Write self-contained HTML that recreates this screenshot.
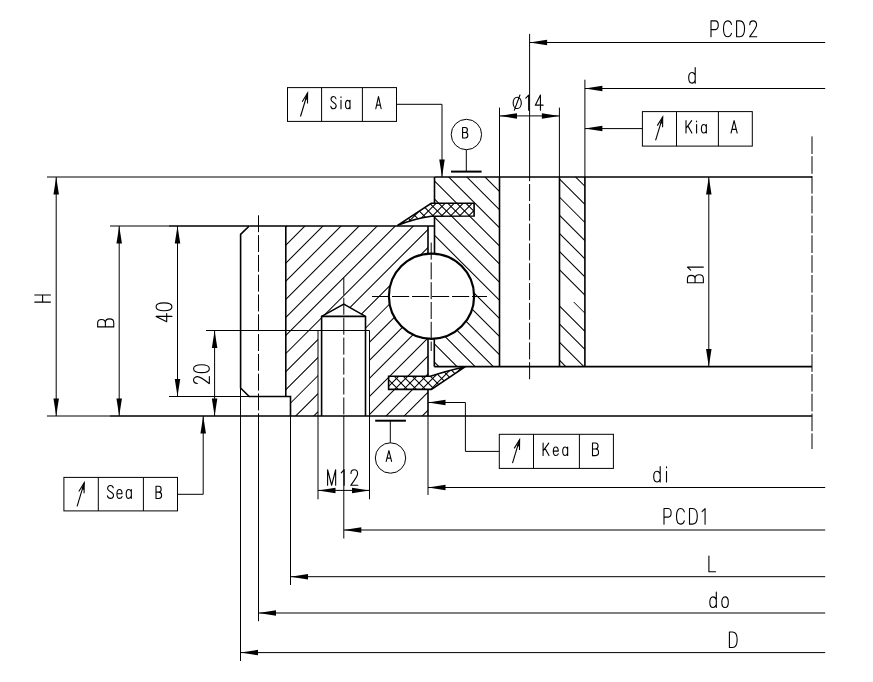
<!DOCTYPE html>
<html><head><meta charset="utf-8"><style>
html,body{margin:0;padding:0;background:#fff;font-family:"Liberation Sans",sans-serif;}
svg{display:block;}
</style></head><body>
<svg width="873" height="682" viewBox="0 0 873 682" stroke="#000" fill="none">
<rect x="0" y="0" width="873" height="682" fill="#fff" stroke="none"/>
<defs>
<clipPath id="cL"><path clip-rule="evenodd" d="M285.8,226 L428.0,226 L428.0,253.7 A42.6,42.6 0 0 0 428.0,338.7 L428.0,416.0 L290.5,416.0 L290.5,396.5 L285.8,396.5Z M318.0,416.0 L318.0,330.5 L321.6,330.5 L321.6,316.4 L343.8,304.1 L365.5,316.4 L365.5,330.5 L369.5,330.5 L369.5,416.0Z M388.3,376.2 L428.0,376.2 L428.0,388.9 L388.3,388.9Z"/></clipPath>
<clipPath id="cR"><path clip-rule="evenodd" d="M434.5,177 L499.5,177 L499.5,366.6 L434.3,366.6 L434.3,338.7 A42.6,42.6 0 0 0 434.5,253.7 L434.5,216 L474.1,216 L474.1,203.3 L434.5,203.3Z"/></clipPath>
<clipPath id="cS"><path d="M559.5,177 L584.9,177 L584.9,366.6 L559.5,366.6Z"/></clipPath>
<clipPath id="cU"><path d="M397.2,225.6 L431.2,203.3 L474.1,203.3 L474.1,216 L431.2,216.2 Q414,218.5 397.2,225.6Z"/></clipPath>
<clipPath id="cD"><path d="M388.6,376.3 L430.4,376.3 Q446,371 465.4,366.7 L431.4,389.4 L388.6,389.4Z"/></clipPath>
</defs>
<path clip-path="url(#cL)" d="M169.3,0 L-530.7,700 M187.38,0 L-512.62,700 M205.46000000000004,0 L-494.53999999999996,700 M223.54000000000002,0 L-476.46,700 M241.62,0 L-458.38,700 M259.7,0 L-440.3,700 M277.78,0 L-422.22,700 M295.86,0 L-404.14,700 M313.94,0 L-386.06,700 M332.02,0 L-367.98,700 M350.1,0 L-349.9,700 M368.18,0 L-331.82,700 M386.26,0 L-313.74,700 M404.34,0 L-295.66,700 M422.41999999999996,0 L-277.58000000000004,700 M440.5,0 L-259.5,700 M458.58,0 L-241.42000000000002,700 M476.65999999999997,0 L-223.34000000000003,700 M494.74,0 L-205.26,700 M512.8199999999999,0 L-187.18000000000006,700 M530.9,0 L-169.10000000000002,700 M548.98,0 L-151.01999999999998,700 M567.06,0 L-132.94000000000005,700 M585.14,0 L-114.86000000000001,700 M603.22,0 L-96.77999999999997,700 M621.3,0 L-78.70000000000005,700 M639.38,0 L-60.620000000000005,700 M657.4599999999999,0 L-42.54000000000008,700 M675.54,0 L-24.460000000000036,700 M693.6199999999999,0 L-6.380000000000109,700 M711.6999999999999,0 L11.699999999999932,700 M729.78,0 L29.779999999999973,700 M747.8599999999999,0 L47.8599999999999,700 M765.9399999999999,0 L65.93999999999994,700 M784.02,0 L84.01999999999998,700 M802.0999999999999,0 L102.09999999999991,700 M820.18,0 L120.17999999999995,700 M838.26,0 L138.26,700 M856.3399999999999,0 L156.33999999999992,700 M874.42,0 L174.41999999999996,700 M892.5,0 L192.5,700 M910.5799999999999,0 L210.57999999999993,700 M928.66,0 L228.65999999999997,700 M946.74,0 L246.74,700 M964.8199999999999,0 L264.81999999999994,700 M982.8999999999999,0 L282.89999999999986,700" stroke-width="1.05" fill="none"/>
<path clip-path="url(#cR)" d="M-72.75,0 L627.25,700 M-54.620000000000005,0 L645.38,700 M-36.49000000000001,0 L663.51,700 M-18.360000000000014,0 L681.64,700 M-0.22999999999998977,0 L699.77,700 M17.900000000000006,0 L717.9,700 M36.03,0 L736.03,700 M54.16,0 L754.16,700 M72.28999999999999,0 L772.29,700 M90.41999999999999,0 L790.42,700 M108.55,0 L808.55,700 M126.67999999999999,0 L826.68,700 M144.81,0 L844.81,700 M162.94,0 L862.94,700 M181.07,0 L881.0699999999999,700 M199.2,0 L899.2,700 M217.32999999999998,0 L917.3299999999999,700 M235.45999999999998,0 L935.46,700 M253.58999999999997,0 L953.5899999999999,700 M271.71999999999997,0 L971.72,700 M289.84999999999997,0 L989.8499999999999,700 M307.98,0 L1007.98,700 M326.11,0 L1026.1100000000001,700 M344.24,0 L1044.24,700 M362.37,0 L1062.37,700 M380.5,0 L1080.5,700 M398.63,0 L1098.63,700 M416.76,0 L1116.76,700 M434.89,0 L1134.8899999999999,700 M453.02,0 L1153.02,700 M471.15,0 L1171.15,700 M489.28,0 L1189.28,700 M507.40999999999997,0 L1207.4099999999999,700 M525.54,0 L1225.54,700 M543.67,0 L1243.67,700 M561.8,0 L1261.8,700 M579.93,0 L1279.9299999999998,700 M598.06,0 L1298.06,700 M616.1899999999999,0 L1316.19,700 M634.3199999999999,0 L1334.32,700 M652.45,0 L1352.45,700 M670.5799999999999,0 L1370.58,700 M688.71,0 L1388.71,700 M706.8399999999999,0 L1406.84,700 M724.97,0 L1424.97,700 M743.0999999999999,0 L1443.1,700" stroke-width="1.05" fill="none"/>
<path clip-path="url(#cS)" d="M108.55,0 L808.55,700 M126.67999999999999,0 L826.68,700 M144.81,0 L844.81,700 M162.94,0 L862.94,700 M181.07,0 L881.0699999999999,700 M199.2,0 L899.2,700 M217.32999999999998,0 L917.3299999999999,700 M235.45999999999998,0 L935.46,700 M253.58999999999997,0 L953.5899999999999,700 M289.84999999999997,0 L989.8499999999999,700 M307.98,0 L1007.98,700 M326.11,0 L1026.1100000000001,700 M344.24,0 L1044.24,700 M362.37,0 L1062.37,700 M380.5,0 L1080.5,700 M398.63,0 L1098.63,700 M416.76,0 L1116.76,700 M434.89,0 L1134.8899999999999,700 M453.02,0 L1153.02,700 M471.15,0 L1171.15,700 M489.28,0 L1189.28,700 M507.40999999999997,0 L1207.4099999999999,700 M525.54,0 L1225.54,700 M543.67,0 L1243.67,700 M561.8,0 L1261.8,700 M579.93,0 L1279.9299999999998,700 M598.06,0 L1298.06,700 M616.1899999999999,0 L1316.19,700 M634.3199999999999,0 L1334.32,700 M652.45,0 L1352.45,700 M670.5799999999999,0 L1370.58,700 M688.71,0 L1388.71,700 M706.8399999999999,0 L1406.84,700 M724.97,0 L1424.97,700" stroke-width="1.05" fill="none"/>
<line x1="573.8" y1="302.08" x2="584.9" y2="313.18" stroke-width="1.0"/>
<path clip-path="url(#cU)" d="M169.3,0 L-530.7,700 M178.34000000000003,0 L-521.66,700 M187.38,0 L-512.62,700 M196.42000000000002,0 L-503.58,700 M205.46000000000004,0 L-494.53999999999996,700 M214.5,0 L-485.5,700 M223.54000000000002,0 L-476.46,700 M232.57999999999998,0 L-467.42,700 M241.62,0 L-458.38,700 M250.66000000000003,0 L-449.34,700 M259.7,0 L-440.3,700 M268.74,0 L-431.26,700 M277.78,0 L-422.22,700 M286.82,0 L-413.18,700 M295.86,0 L-404.14,700 M304.9,0 L-395.1,700 M313.94,0 L-386.06,700 M322.98,0 L-377.02,700 M332.02,0 L-367.98,700 M341.06,0 L-358.94,700 M350.1,0 L-349.9,700 M359.14,0 L-340.86,700 M368.18,0 L-331.82,700 M377.22,0 L-322.78,700 M386.26,0 L-313.74,700 M395.29999999999995,0 L-304.70000000000005,700 M404.34,0 L-295.66,700 M413.38,0 L-286.62,700 M422.41999999999996,0 L-277.58000000000004,700 M431.46,0 L-268.54,700 M440.5,0 L-259.5,700 M449.53999999999996,0 L-250.46000000000004,700 M458.58,0 L-241.42000000000002,700 M467.62,0 L-232.38,700 M476.65999999999997,0 L-223.34000000000003,700 M485.7,0 L-214.3,700 M494.74,0 L-205.26,700 M503.78,0 L-196.22000000000003,700 M512.8199999999999,0 L-187.18000000000006,700 M521.86,0 L-178.14,700 M530.9,0 L-169.10000000000002,700 M539.9399999999999,0 L-160.06000000000006,700 M548.98,0 L-151.01999999999998,700 M558.02,0 L-141.98000000000002,700 M567.06,0 L-132.94000000000005,700 M576.1,0 L-123.89999999999998,700 M585.14,0 L-114.86000000000001,700 M594.18,0 L-105.82000000000005,700 M603.22,0 L-96.77999999999997,700 M612.26,0 L-87.74000000000001,700 M621.3,0 L-78.70000000000005,700 M630.3399999999999,0 L-69.66000000000008,700 M639.38,0 L-60.620000000000005,700 M648.42,0 L-51.58000000000004,700 M657.4599999999999,0 L-42.54000000000008,700 M666.5,0 L-33.5,700 M675.54,0 L-24.460000000000036,700 M684.5799999999999,0 L-15.420000000000073,700 M693.6199999999999,0 L-6.380000000000109,700 M702.66,0 L2.659999999999968,700 M711.6999999999999,0 L11.699999999999932,700 M720.74,0 L20.74000000000001,700 M729.78,0 L29.779999999999973,700 M738.8199999999999,0 L38.819999999999936,700 M747.8599999999999,0 L47.8599999999999,700 M756.9,0 L56.89999999999998,700 M765.9399999999999,0 L65.93999999999994,700 M774.98,0 L74.98000000000002,700 M784.02,0 L84.01999999999998,700 M793.06,0 L93.05999999999995,700 M802.0999999999999,0 L102.09999999999991,700 M811.1399999999999,0 L111.13999999999987,700 M820.18,0 L120.17999999999995,700 M829.22,0 L129.22000000000003,700 M838.26,0 L138.26,700 M847.3,0 L147.29999999999995,700 M856.3399999999999,0 L156.33999999999992,700 M865.3799999999999,0 L165.37999999999988,700 M874.42,0 L174.41999999999996,700 M883.4599999999999,0 L183.45999999999992,700 M892.5,0 L192.5,700 M901.54,0 L201.53999999999996,700 M910.5799999999999,0 L210.57999999999993,700 M919.6199999999999,0 L219.6199999999999,700 M928.66,0 L228.65999999999997,700 M937.6999999999999,0 L237.69999999999993,700 M946.74,0 L246.74,700 M955.78,0 L255.77999999999997,700 M964.8199999999999,0 L264.81999999999994,700 M973.8599999999999,0 L273.8599999999999,700 M982.8999999999999,0 L282.89999999999986,700 M991.9399999999999,0 L291.93999999999994,700 M1000.9799999999999,0 L300.9799999999999,700 M1010.02,0 L310.02,700 M1019.06,0 L319.05999999999995,700 M1028.1,0 L328.0999999999999,700 M1037.1399999999999,0 L337.1399999999999,700 M1046.1799999999998,0 L346.17999999999984,700 M1055.2199999999998,0 L355.2199999999998,700 M1064.2599999999998,0 L364.25999999999976,700 M1073.3,0 L373.29999999999995,700" stroke-width="1.05" fill="none"/>
<path clip-path="url(#cU)" d="M-163.39999999999998,0 L536.6,700 M-154.33499999999998,0 L545.665,700 M-145.26999999999998,0 L554.73,700 M-136.20499999999998,0 L563.7950000000001,700 M-127.13999999999999,0 L572.86,700 M-118.07499999999999,0 L581.925,700 M-109.00999999999999,0 L590.99,700 M-99.945,0 L600.0550000000001,700 M-90.88,0 L609.12,700 M-81.815,0 L618.185,700 M-72.75,0 L627.25,700 M-63.685,0 L636.315,700 M-54.620000000000005,0 L645.38,700 M-45.55500000000001,0 L654.4449999999999,700 M-36.49000000000001,0 L663.51,700 M-27.42500000000001,0 L672.575,700 M-18.360000000000014,0 L681.64,700 M-9.294999999999987,0 L690.705,700 M-0.22999999999998977,0 L699.77,700 M8.835000000000008,0 L708.835,700 M17.900000000000006,0 L717.9,700 M26.965000000000003,0 L726.965,700 M36.03,0 L736.03,700 M45.095,0 L745.095,700 M54.16,0 L754.16,700 M63.224999999999994,0 L763.225,700 M72.28999999999999,0 L772.29,700 M81.35499999999999,0 L781.355,700 M90.41999999999999,0 L790.42,700 M99.485,0 L799.485,700 M108.55,0 L808.55,700 M117.615,0 L817.615,700 M126.67999999999999,0 L826.68,700 M135.745,0 L835.745,700 M144.81,0 L844.81,700 M153.875,0 L853.875,700 M162.94,0 L862.94,700 M172.005,0 L872.005,700 M181.07,0 L881.0699999999999,700 M190.135,0 L890.135,700 M199.2,0 L899.2,700 M208.265,0 L908.265,700 M217.32999999999998,0 L917.3299999999999,700 M226.39499999999998,0 L926.395,700 M235.45999999999998,0 L935.46,700 M244.52499999999998,0 L944.525,700 M253.58999999999997,0 L953.5899999999999,700 M262.655,0 L962.655,700 M271.71999999999997,0 L971.72,700 M280.78499999999997,0 L980.785,700 M289.84999999999997,0 L989.8499999999999,700 M298.91499999999996,0 L998.915,700 M307.98,0 L1007.98,700 M317.04499999999996,0 L1017.045,700 M326.11,0 L1026.1100000000001,700 M335.17499999999995,0 L1035.175,700 M344.24,0 L1044.24,700 M353.30499999999995,0 L1053.3049999999998,700 M362.37,0 L1062.37,700 M371.43499999999995,0 L1071.435,700 M380.5,0 L1080.5,700 M389.56499999999994,0 L1089.565,700 M398.63,0 L1098.63,700 M407.69499999999994,0 L1107.695,700 M416.76,0 L1116.76,700 M425.825,0 L1125.825,700 M434.89,0 L1134.8899999999999,700 M443.955,0 L1143.955,700 M453.02,0 L1153.02,700 M462.085,0 L1162.085,700 M471.15,0 L1171.15,700 M480.215,0 L1180.215,700 M489.28,0 L1189.28,700 M498.34499999999997,0 L1198.345,700 M507.40999999999997,0 L1207.4099999999999,700 M516.4749999999999,0 L1216.475,700 M525.54,0 L1225.54,700 M534.605,0 L1234.605,700 M543.67,0 L1243.67,700 M552.7349999999999,0 L1252.735,700 M561.8,0 L1261.8,700 M570.865,0 L1270.865,700 M579.93,0 L1279.9299999999998,700 M588.9949999999999,0 L1288.995,700 M598.06,0 L1298.06,700 M607.125,0 L1307.125,700 M616.1899999999999,0 L1316.19,700 M625.2549999999999,0 L1325.2549999999999,700 M634.3199999999999,0 L1334.32,700 M643.385,0 L1343.385,700 M652.45,0 L1352.45,700 M661.515,0 L1361.5149999999999,700 M670.5799999999999,0 L1370.58,700 M679.645,0 L1379.645,700 M688.71,0 L1388.71,700 M697.775,0 L1397.775,700 M706.8399999999999,0 L1406.84,700 M715.905,0 L1415.905,700 M724.97,0 L1424.97,700 M734.0349999999999,0 L1434.0349999999999,700 M743.0999999999999,0 L1443.1,700 M752.165,0 L1452.165,700 M761.23,0 L1461.23,700 M770.2949999999998,0 L1470.2949999999998,700 M779.3599999999999,0 L1479.36,700 M788.425,0 L1488.425,700 M797.49,0 L1497.49,700 M806.5550000000001,0 L1506.555,700 M815.6199999999999,0 L1515.62,700 M824.685,0 L1524.685,700 M833.75,0 L1533.75,700 M842.815,0 L1542.815,700 M851.8799999999999,0 L1551.8799999999999,700 M860.9449999999999,0 L1560.945,700 M870.01,0 L1570.01,700 M879.075,0 L1579.075,700 M888.1399999999999,0 L1588.1399999999999,700 M897.2049999999999,0 L1597.205,700 M906.27,0 L1606.27,700 M915.335,0 L1615.335,700 M924.3999999999999,0 L1624.3999999999999,700" stroke-width="1.05" fill="none"/>
<path clip-path="url(#cD)" d="M169.3,0 L-530.7,700 M178.34000000000003,0 L-521.66,700 M187.38,0 L-512.62,700 M196.42000000000002,0 L-503.58,700 M205.46000000000004,0 L-494.53999999999996,700 M214.5,0 L-485.5,700 M223.54000000000002,0 L-476.46,700 M232.57999999999998,0 L-467.42,700 M241.62,0 L-458.38,700 M250.66000000000003,0 L-449.34,700 M259.7,0 L-440.3,700 M268.74,0 L-431.26,700 M277.78,0 L-422.22,700 M286.82,0 L-413.18,700 M295.86,0 L-404.14,700 M304.9,0 L-395.1,700 M313.94,0 L-386.06,700 M322.98,0 L-377.02,700 M332.02,0 L-367.98,700 M341.06,0 L-358.94,700 M350.1,0 L-349.9,700 M359.14,0 L-340.86,700 M368.18,0 L-331.82,700 M377.22,0 L-322.78,700 M386.26,0 L-313.74,700 M395.29999999999995,0 L-304.70000000000005,700 M404.34,0 L-295.66,700 M413.38,0 L-286.62,700 M422.41999999999996,0 L-277.58000000000004,700 M431.46,0 L-268.54,700 M440.5,0 L-259.5,700 M449.53999999999996,0 L-250.46000000000004,700 M458.58,0 L-241.42000000000002,700 M467.62,0 L-232.38,700 M476.65999999999997,0 L-223.34000000000003,700 M485.7,0 L-214.3,700 M494.74,0 L-205.26,700 M503.78,0 L-196.22000000000003,700 M512.8199999999999,0 L-187.18000000000006,700 M521.86,0 L-178.14,700 M530.9,0 L-169.10000000000002,700 M539.9399999999999,0 L-160.06000000000006,700 M548.98,0 L-151.01999999999998,700 M558.02,0 L-141.98000000000002,700 M567.06,0 L-132.94000000000005,700 M576.1,0 L-123.89999999999998,700 M585.14,0 L-114.86000000000001,700 M594.18,0 L-105.82000000000005,700 M603.22,0 L-96.77999999999997,700 M612.26,0 L-87.74000000000001,700 M621.3,0 L-78.70000000000005,700 M630.3399999999999,0 L-69.66000000000008,700 M639.38,0 L-60.620000000000005,700 M648.42,0 L-51.58000000000004,700 M657.4599999999999,0 L-42.54000000000008,700 M666.5,0 L-33.5,700 M675.54,0 L-24.460000000000036,700 M684.5799999999999,0 L-15.420000000000073,700 M693.6199999999999,0 L-6.380000000000109,700 M702.66,0 L2.659999999999968,700 M711.6999999999999,0 L11.699999999999932,700 M720.74,0 L20.74000000000001,700 M729.78,0 L29.779999999999973,700 M738.8199999999999,0 L38.819999999999936,700 M747.8599999999999,0 L47.8599999999999,700 M756.9,0 L56.89999999999998,700 M765.9399999999999,0 L65.93999999999994,700 M774.98,0 L74.98000000000002,700 M784.02,0 L84.01999999999998,700 M793.06,0 L93.05999999999995,700 M802.0999999999999,0 L102.09999999999991,700 M811.1399999999999,0 L111.13999999999987,700 M820.18,0 L120.17999999999995,700 M829.22,0 L129.22000000000003,700 M838.26,0 L138.26,700 M847.3,0 L147.29999999999995,700 M856.3399999999999,0 L156.33999999999992,700 M865.3799999999999,0 L165.37999999999988,700 M874.42,0 L174.41999999999996,700 M883.4599999999999,0 L183.45999999999992,700 M892.5,0 L192.5,700 M901.54,0 L201.53999999999996,700 M910.5799999999999,0 L210.57999999999993,700 M919.6199999999999,0 L219.6199999999999,700 M928.66,0 L228.65999999999997,700 M937.6999999999999,0 L237.69999999999993,700 M946.74,0 L246.74,700 M955.78,0 L255.77999999999997,700 M964.8199999999999,0 L264.81999999999994,700 M973.8599999999999,0 L273.8599999999999,700 M982.8999999999999,0 L282.89999999999986,700 M991.9399999999999,0 L291.93999999999994,700 M1000.9799999999999,0 L300.9799999999999,700 M1010.02,0 L310.02,700 M1019.06,0 L319.05999999999995,700 M1028.1,0 L328.0999999999999,700 M1037.1399999999999,0 L337.1399999999999,700 M1046.1799999999998,0 L346.17999999999984,700 M1055.2199999999998,0 L355.2199999999998,700 M1064.2599999999998,0 L364.25999999999976,700 M1073.3,0 L373.29999999999995,700" stroke-width="1.05" fill="none"/>
<path clip-path="url(#cD)" d="M-163.39999999999998,0 L536.6,700 M-154.33499999999998,0 L545.665,700 M-145.26999999999998,0 L554.73,700 M-136.20499999999998,0 L563.7950000000001,700 M-127.13999999999999,0 L572.86,700 M-118.07499999999999,0 L581.925,700 M-109.00999999999999,0 L590.99,700 M-99.945,0 L600.0550000000001,700 M-90.88,0 L609.12,700 M-81.815,0 L618.185,700 M-72.75,0 L627.25,700 M-63.685,0 L636.315,700 M-54.620000000000005,0 L645.38,700 M-45.55500000000001,0 L654.4449999999999,700 M-36.49000000000001,0 L663.51,700 M-27.42500000000001,0 L672.575,700 M-18.360000000000014,0 L681.64,700 M-9.294999999999987,0 L690.705,700 M-0.22999999999998977,0 L699.77,700 M8.835000000000008,0 L708.835,700 M17.900000000000006,0 L717.9,700 M26.965000000000003,0 L726.965,700 M36.03,0 L736.03,700 M45.095,0 L745.095,700 M54.16,0 L754.16,700 M63.224999999999994,0 L763.225,700 M72.28999999999999,0 L772.29,700 M81.35499999999999,0 L781.355,700 M90.41999999999999,0 L790.42,700 M99.485,0 L799.485,700 M108.55,0 L808.55,700 M117.615,0 L817.615,700 M126.67999999999999,0 L826.68,700 M135.745,0 L835.745,700 M144.81,0 L844.81,700 M153.875,0 L853.875,700 M162.94,0 L862.94,700 M172.005,0 L872.005,700 M181.07,0 L881.0699999999999,700 M190.135,0 L890.135,700 M199.2,0 L899.2,700 M208.265,0 L908.265,700 M217.32999999999998,0 L917.3299999999999,700 M226.39499999999998,0 L926.395,700 M235.45999999999998,0 L935.46,700 M244.52499999999998,0 L944.525,700 M253.58999999999997,0 L953.5899999999999,700 M262.655,0 L962.655,700 M271.71999999999997,0 L971.72,700 M280.78499999999997,0 L980.785,700 M289.84999999999997,0 L989.8499999999999,700 M298.91499999999996,0 L998.915,700 M307.98,0 L1007.98,700 M317.04499999999996,0 L1017.045,700 M326.11,0 L1026.1100000000001,700 M335.17499999999995,0 L1035.175,700 M344.24,0 L1044.24,700 M353.30499999999995,0 L1053.3049999999998,700 M362.37,0 L1062.37,700 M371.43499999999995,0 L1071.435,700 M380.5,0 L1080.5,700 M389.56499999999994,0 L1089.565,700 M398.63,0 L1098.63,700 M407.69499999999994,0 L1107.695,700 M416.76,0 L1116.76,700 M425.825,0 L1125.825,700 M434.89,0 L1134.8899999999999,700 M443.955,0 L1143.955,700 M453.02,0 L1153.02,700 M462.085,0 L1162.085,700 M471.15,0 L1171.15,700 M480.215,0 L1180.215,700 M489.28,0 L1189.28,700 M498.34499999999997,0 L1198.345,700 M507.40999999999997,0 L1207.4099999999999,700 M516.4749999999999,0 L1216.475,700 M525.54,0 L1225.54,700 M534.605,0 L1234.605,700 M543.67,0 L1243.67,700 M552.7349999999999,0 L1252.735,700 M561.8,0 L1261.8,700 M570.865,0 L1270.865,700 M579.93,0 L1279.9299999999998,700 M588.9949999999999,0 L1288.995,700 M598.06,0 L1298.06,700 M607.125,0 L1307.125,700 M616.1899999999999,0 L1316.19,700 M625.2549999999999,0 L1325.2549999999999,700 M634.3199999999999,0 L1334.32,700 M643.385,0 L1343.385,700 M652.45,0 L1352.45,700 M661.515,0 L1361.5149999999999,700 M670.5799999999999,0 L1370.58,700 M679.645,0 L1379.645,700 M688.71,0 L1388.71,700 M697.775,0 L1397.775,700 M706.8399999999999,0 L1406.84,700 M715.905,0 L1415.905,700 M724.97,0 L1424.97,700 M734.0349999999999,0 L1434.0349999999999,700 M743.0999999999999,0 L1443.1,700 M752.165,0 L1452.165,700 M761.23,0 L1461.23,700 M770.2949999999998,0 L1470.2949999999998,700 M779.3599999999999,0 L1479.36,700 M788.425,0 L1488.425,700 M797.49,0 L1497.49,700 M806.5550000000001,0 L1506.555,700 M815.6199999999999,0 L1515.62,700 M824.685,0 L1524.685,700 M833.75,0 L1533.75,700 M842.815,0 L1542.815,700 M851.8799999999999,0 L1551.8799999999999,700 M860.9449999999999,0 L1560.945,700 M870.01,0 L1570.01,700 M879.075,0 L1579.075,700 M888.1399999999999,0 L1588.1399999999999,700 M897.2049999999999,0 L1597.205,700 M906.27,0 L1606.27,700 M915.335,0 L1615.335,700 M924.3999999999999,0 L1624.3999999999999,700" stroke-width="1.05" fill="none"/>
<path d="M249.2,226 L240.6,234.3 L240.6,388 L249.2,396.5 L290.5,396.5 L290.5,416.0" stroke-width="1.6" fill="none"/>
<line x1="249.2" y1="226" x2="434.5" y2="226" stroke-width="1.6"/>
<line x1="285.8" y1="226" x2="285.8" y2="396.5" stroke-width="1.6"/>
<line x1="241" y1="416.0" x2="812" y2="416.0" stroke-width="1.6"/>
<line x1="428.0" y1="226" x2="428.0" y2="253.7" stroke-width="1.6"/>
<line x1="428.0" y1="338.7" x2="428.0" y2="376.3" stroke-width="1.6"/>
<line x1="428.0" y1="389.4" x2="428.0" y2="416.0" stroke-width="1.6"/>
<line x1="434.5" y1="177" x2="812" y2="177" stroke-width="1.6"/>
<line x1="434.5" y1="177" x2="434.5" y2="203.3" stroke-width="1.6"/>
<line x1="434.5" y1="216" x2="434.5" y2="253.7" stroke-width="1.6"/>
<line x1="434.3" y1="338.7" x2="434.3" y2="366.6" stroke-width="1.6"/>
<line x1="434.3" y1="366.6" x2="812" y2="366.6" stroke-width="1.6"/>
<line x1="499.5" y1="177" x2="499.5" y2="366.6" stroke-width="1.6"/>
<line x1="559.5" y1="177" x2="559.5" y2="366.6" stroke-width="1.6"/>
<line x1="584.9" y1="177" x2="584.9" y2="366.6" stroke-width="1.6"/>
<circle cx="431.5" cy="296.2" r="42.6" fill="none" stroke-width="2.2"/>
<path d="M321.6,416.0 L321.6,316.4 L343.8,304.1 L365.5,316.4 L365.5,416.0" stroke-width="1.6" fill="none"/>
<line x1="321.6" y1="316.4" x2="365.5" y2="316.4" stroke-width="1.6"/>
<path d="M397.2,225.6 L431.2,203.3 L474.1,203.3 L474.1,216 L431.2,216.2 Q414,218.5 397.2,225.6Z" fill="none" stroke-width="1.6"/>
<path d="M388.6,376.3 L430.4,376.3 Q446,371 465.4,366.7 L431.4,389.4 L388.6,389.4Z" fill="none" stroke-width="1.6"/>
<line x1="47" y1="177" x2="434.5" y2="177" stroke-width="1.0"/>
<line x1="110" y1="226" x2="249" y2="226" stroke-width="1.0"/>
<line x1="169" y1="226" x2="249" y2="226" stroke-width="1.0"/>
<line x1="169" y1="396.5" x2="249" y2="396.5" stroke-width="1.0"/>
<line x1="47" y1="416.0" x2="241" y2="416.0" stroke-width="1.0"/>
<line x1="110" y1="416.0" x2="241" y2="416.0" stroke-width="1.0"/>
<line x1="206" y1="330.5" x2="369.5" y2="330.5" stroke-width="1.0"/>
<line x1="318.0" y1="330.5" x2="318.0" y2="499.3" stroke-width="1.0"/>
<line x1="369.5" y1="330.5" x2="369.5" y2="499.3" stroke-width="1.0"/>
<line x1="56.2" y1="177" x2="56.2" y2="416.0" stroke-width="1.0"/>
<path d="M56.20,177.00 L58.95,194.50 L53.45,194.50Z" fill="#000" stroke="none"/>
<path d="M56.20,416.00 L53.45,398.50 L58.95,398.50Z" fill="#000" stroke="none"/>
<line x1="119.2" y1="226" x2="119.2" y2="416.0" stroke-width="1.0"/>
<path d="M119.20,226.00 L121.95,243.50 L116.45,243.50Z" fill="#000" stroke="none"/>
<path d="M119.20,416.00 L116.45,398.50 L121.95,398.50Z" fill="#000" stroke="none"/>
<line x1="177.5" y1="226" x2="177.5" y2="396.5" stroke-width="1.0"/>
<path d="M177.50,226.00 L180.25,243.50 L174.75,243.50Z" fill="#000" stroke="none"/>
<path d="M177.50,396.50 L174.75,379.00 L180.25,379.00Z" fill="#000" stroke="none"/>
<line x1="214.6" y1="330.5" x2="214.6" y2="416.0" stroke-width="1.0"/>
<path d="M214.60,330.50 L217.35,348.00 L211.85,348.00Z" fill="#000" stroke="none"/>
<path d="M214.60,416.00 L211.85,398.50 L217.35,398.50Z" fill="#000" stroke="none"/>
<line x1="812" y1="136.4" x2="812" y2="449" stroke-width="1.0" stroke-dasharray="17.6 2.2"/>
<line x1="372" y1="296.5" x2="487" y2="296.5" stroke-width="1.0" stroke-dasharray="17.2 2.8" stroke-dashoffset="0"/>
<line x1="431.2" y1="242.6" x2="431.2" y2="351" stroke-width="1.0" stroke-dasharray="17 2.8"/>
<line x1="258.5" y1="215.3" x2="258.5" y2="416.0" stroke-width="1.0" stroke-dasharray="16.9 2.9"/>
<line x1="258.5" y1="416.0" x2="258.5" y2="621.2" stroke-width="1.0"/>
<line x1="343.8" y1="277.8" x2="343.8" y2="416.0" stroke-width="1.0" stroke-dasharray="17 2.95"/>
<line x1="343.8" y1="416.0" x2="343.8" y2="538.5" stroke-width="1.0"/>
<line x1="529.6" y1="33.9" x2="529.6" y2="177" stroke-width="1.0"/>
<line x1="529.6" y1="177" x2="529.6" y2="379.5" stroke-width="1.0" stroke-dasharray="17 2.8" stroke-dashoffset="12.8"/>
<line x1="240.5" y1="388" x2="240.5" y2="661" stroke-width="1.0"/>
<line x1="290.5" y1="416.0" x2="290.5" y2="585" stroke-width="1.0"/>
<line x1="428.0" y1="416.0" x2="428.0" y2="495" stroke-width="1.0"/>
<line x1="584.9" y1="79.7" x2="584.9" y2="177" stroke-width="1.0"/>
<line x1="499.5" y1="107.6" x2="499.5" y2="177" stroke-width="1.0"/>
<line x1="559.4" y1="107.6" x2="559.4" y2="177" stroke-width="1.0"/>
<line x1="529.6" y1="42.5" x2="825.2" y2="42.5" stroke-width="1.0"/>
<path d="M529.60,42.50 L547.10,39.75 L547.10,45.25Z" fill="#000" stroke="none"/>
<line x1="584.9" y1="88.5" x2="825.2" y2="88.5" stroke-width="1.0"/>
<path d="M584.90,88.50 L602.40,85.75 L602.40,91.25Z" fill="#000" stroke="none"/>
<line x1="428.0" y1="487.5" x2="825.2" y2="487.5" stroke-width="1.0"/>
<path d="M428.00,487.50 L445.50,484.75 L445.50,490.25Z" fill="#000" stroke="none"/>
<line x1="343.8" y1="530.0" x2="825.2" y2="530.0" stroke-width="1.0"/>
<path d="M343.80,530.00 L361.30,527.25 L361.30,532.75Z" fill="#000" stroke="none"/>
<line x1="290.5" y1="576.7" x2="825.2" y2="576.7" stroke-width="1.0"/>
<path d="M290.50,576.70 L308.00,573.95 L308.00,579.45Z" fill="#000" stroke="none"/>
<line x1="258.5" y1="613.0" x2="825.2" y2="613.0" stroke-width="1.0"/>
<path d="M258.50,613.00 L276.00,610.25 L276.00,615.75Z" fill="#000" stroke="none"/>
<line x1="240.5" y1="652.6" x2="825.2" y2="652.6" stroke-width="1.0"/>
<path d="M240.50,652.60 L258.00,649.85 L258.00,655.35Z" fill="#000" stroke="none"/>
<line x1="499.5" y1="115.9" x2="559.4" y2="115.9" stroke-width="1.0"/>
<path d="M499.50,115.90 L517.00,113.15 L517.00,118.65Z" fill="#000" stroke="none"/>
<path d="M559.40,115.90 L541.90,118.65 L541.90,113.15Z" fill="#000" stroke="none"/>
<line x1="318.0" y1="490.4" x2="369.5" y2="490.4" stroke-width="1.0"/>
<path d="M318.00,490.40 L335.50,487.65 L335.50,493.15Z" fill="#000" stroke="none"/>
<path d="M369.50,490.40 L352.00,493.15 L352.00,487.65Z" fill="#000" stroke="none"/>
<line x1="708.8" y1="177" x2="708.8" y2="366.6" stroke-width="1.0"/>
<path d="M708.80,177.00 L711.55,194.50 L706.05,194.50Z" fill="#000" stroke="none"/>
<path d="M708.80,366.60 L706.05,349.10 L711.55,349.10Z" fill="#000" stroke="none"/>
<line x1="584.9" y1="128.6" x2="642.4" y2="128.6" stroke-width="1.0"/>
<path d="M584.90,128.60 L602.40,125.85 L602.40,131.35Z" fill="#000" stroke="none"/>
<path d="M396.5,104.3 L442,104.3 L442,177" stroke-width="1.0" fill="none"/>
<path d="M442.00,177.00 L439.25,159.50 L444.75,159.50Z" fill="#000" stroke="none"/>
<path d="M499.3,451.4 L465.4,451.4 L465.4,402.5 L428.0,402.5" stroke-width="1.0" fill="none"/>
<path d="M428.00,402.50 L445.50,399.75 L445.50,405.25Z" fill="#000" stroke="none"/>
<path d="M177.5,494.3 L203.2,494.3 L203.2,416.0" stroke-width="1.0" fill="none"/>
<path d="M203.20,416.00 L205.95,433.50 L200.45,433.50Z" fill="#000" stroke="none"/>
<rect x="287.5" y="87.6" width="109.0" height="33.80000000000001" fill="none" stroke-width="1"/>
<line x1="321.6" y1="87.6" x2="321.6" y2="121.4" stroke-width="1.0"/>
<line x1="362.4" y1="87.6" x2="362.4" y2="121.4" stroke-width="1.0"/>
<line x1="300.5" y1="116.5" x2="307.6" y2="93.0" stroke-width="1.1"/>
<path d="M302.2,101.69999999999999 L307.6,93.0 L307.5,103.39999999999999" fill="none" stroke-width="1.1"/>
<path d="M307.6,93.0 L305.1,99.1 L307.40000000000003,100.1Z" fill="#000" stroke="none"/>
<rect x="642.4" y="111.6" width="109.89999999999998" height="34.5" fill="none" stroke-width="1"/>
<line x1="676.5" y1="111.6" x2="676.5" y2="146.1" stroke-width="1.0"/>
<line x1="718.4" y1="111.6" x2="718.4" y2="146.1" stroke-width="1.0"/>
<line x1="655.6" y1="140.4" x2="662.6999999999999" y2="116.9" stroke-width="1.1"/>
<path d="M657.3,125.6 L662.6999999999999,116.9 L662.6,127.3" fill="none" stroke-width="1.1"/>
<path d="M662.6999999999999,116.9 L660.1999999999999,123.0 L662.5,124.0Z" fill="#000" stroke="none"/>
<rect x="499.3" y="434.3" width="114.09999999999997" height="34.099999999999966" fill="none" stroke-width="1"/>
<line x1="533.5" y1="434.3" x2="533.5" y2="468.4" stroke-width="1.0"/>
<line x1="579.4" y1="434.3" x2="579.4" y2="468.4" stroke-width="1.0"/>
<line x1="512.5" y1="463.2" x2="519.6" y2="439.7" stroke-width="1.1"/>
<path d="M514.2,448.40000000000003 L519.6,439.7 L519.5,450.1" fill="none" stroke-width="1.1"/>
<path d="M519.6,439.7 L517.1,445.8 L519.4,446.8Z" fill="#000" stroke="none"/>
<rect x="63.9" y="477.4" width="113.6" height="33.5" fill="none" stroke-width="1"/>
<line x1="98.3" y1="477.4" x2="98.3" y2="510.9" stroke-width="1.0"/>
<line x1="143.4" y1="477.4" x2="143.4" y2="510.9" stroke-width="1.0"/>
<line x1="77.1" y1="506.29999999999995" x2="84.2" y2="482.79999999999995" stroke-width="1.1"/>
<path d="M78.8,491.5 L84.2,482.79999999999995 L84.1,493.2" fill="none" stroke-width="1.1"/>
<path d="M84.2,482.79999999999995 L81.7,488.9 L84.0,489.9Z" fill="#000" stroke="none"/>
<circle cx="466.4" cy="134.5" r="15.2" fill="none" stroke-width="1"/>
<line x1="466.3" y1="149.7" x2="466.3" y2="171.6" stroke-width="1.0"/>
<line x1="451" y1="171.6" x2="481.6" y2="171.6" stroke-width="2.0"/>
<circle cx="390.5" cy="458" r="15.2" fill="none" stroke-width="1"/>
<line x1="390.3" y1="420.7" x2="390.3" y2="442.8" stroke-width="1.0"/>
<line x1="375.2" y1="420.7" x2="405.9" y2="420.7" stroke-width="2.0"/>
<g transform="translate(711.0,20.85)" fill="none" stroke-width="1.1" stroke-linecap="round" stroke-linejoin="round"><path transform="translate(0.00,0) scale(15.900,15.900)" d="M0,1V0H0.27C0.52,0 0.52,0.55 0.27,0.55H0" vector-effect="non-scaling-stroke"/><path transform="translate(12.50,0) scale(15.900,15.900)" d="M0.5,0.22C0.47,0.07 0.38,0 0.25,0C0.08,0 0,0.2 0,0.5C0,0.8 0.08,1 0.25,1C0.38,1 0.47,0.93 0.5,0.78" vector-effect="non-scaling-stroke"/><path transform="translate(25.60,0) scale(15.900,15.900)" d="M0,0V1H0.2C0.42,1 0.5,0.78 0.5,0.5C0.5,0.22 0.42,0 0.2,0Z" vector-effect="non-scaling-stroke"/><path transform="translate(38.60,0) scale(15.900,15.900)" d="M0.01,0.24C0.01,0.08 0.1,0 0.22,0C0.36,0 0.44,0.1 0.44,0.26C0.44,0.42 0.36,0.52 0,1H0.45" vector-effect="non-scaling-stroke"/></g>
<g transform="translate(688.7,67.64999999999999)" fill="none" stroke-width="1.1" stroke-linecap="round" stroke-linejoin="round"><path transform="translate(0.00,0) scale(15.500,15.500)" d="M0.42,0V1M0.42,0.5C0.38,0.38 0.31,0.31 0.21,0.31C0.06,0.31 0,0.47 0,0.655C0,0.84 0.06,1 0.21,1C0.31,1 0.38,0.93 0.42,0.8" vector-effect="non-scaling-stroke"/></g>
<g transform="translate(513,95.05)" fill="none" stroke-width="1.1" stroke-linecap="round" stroke-linejoin="round"><path transform="translate(0.00,0) scale(15.100,15.100)" d="M0.28,0.15C0.1,0.15 0.01,0.33 0.01,0.52C0.01,0.71 0.1,0.89 0.28,0.89C0.46,0.89 0.55,0.71 0.55,0.52C0.55,0.33 0.46,0.15 0.28,0.15ZM0.09,1L0.46,0" vector-effect="non-scaling-stroke"/><path transform="translate(12.80,0) scale(15.100,15.100)" d="M0,0.2L0.19,0V1" vector-effect="non-scaling-stroke"/><path transform="translate(22.30,0) scale(15.100,15.100)" d="M0.52,0.67H0L0.34,0V1" vector-effect="non-scaling-stroke"/></g>
<g transform="translate(327.6,469.75)" fill="none" stroke-width="1.1" stroke-linecap="round" stroke-linejoin="round"><path transform="translate(0.00,0) scale(15.500,15.500)" d="M0,1V0L0.26,1L0.52,0V1" vector-effect="non-scaling-stroke"/><path transform="translate(13.60,0) scale(15.500,15.500)" d="M0,0.2L0.19,0V1" vector-effect="non-scaling-stroke"/><path transform="translate(23.20,0) scale(15.500,15.500)" d="M0.01,0.24C0.01,0.08 0.1,0 0.22,0C0.36,0 0.44,0.1 0.44,0.26C0.44,0.42 0.36,0.52 0,1H0.45" vector-effect="non-scaling-stroke"/></g>
<g transform="translate(653.7,466.45)" fill="none" stroke-width="1.1" stroke-linecap="round" stroke-linejoin="round"><path transform="translate(0.00,0) scale(15.500,15.500)" d="M0.42,0V1M0.42,0.5C0.38,0.38 0.31,0.31 0.21,0.31C0.06,0.31 0,0.47 0,0.655C0,0.84 0.06,1 0.21,1C0.31,1 0.38,0.93 0.42,0.8" vector-effect="non-scaling-stroke"/><path transform="translate(12.80,0) scale(15.500,15.500)" d="M0,0.03V0.08M0,0.31V1" vector-effect="non-scaling-stroke"/></g>
<g transform="translate(664,508.55)" fill="none" stroke-width="1.1" stroke-linecap="round" stroke-linejoin="round"><path transform="translate(0.00,0) scale(15.600,15.600)" d="M0,1V0H0.27C0.52,0 0.52,0.55 0.27,0.55H0" vector-effect="non-scaling-stroke"/><path transform="translate(12.50,0) scale(15.600,15.600)" d="M0.5,0.22C0.47,0.07 0.38,0 0.25,0C0.08,0 0,0.2 0,0.5C0,0.8 0.08,1 0.25,1C0.38,1 0.47,0.93 0.5,0.78" vector-effect="non-scaling-stroke"/><path transform="translate(25.50,0) scale(15.600,15.600)" d="M0,0V1H0.2C0.42,1 0.5,0.78 0.5,0.5C0.5,0.22 0.42,0 0.2,0Z" vector-effect="non-scaling-stroke"/><path transform="translate(38.10,0) scale(15.600,15.600)" d="M0,0.2L0.19,0V1" vector-effect="non-scaling-stroke"/></g>
<g transform="translate(708.9,556.05)" fill="none" stroke-width="1.1" stroke-linecap="round" stroke-linejoin="round"><path transform="translate(0.00,0) scale(15.700,15.700)" d="M0,0V1H0.42" vector-effect="non-scaling-stroke"/></g>
<g transform="translate(709.8,592.05)" fill="none" stroke-width="1.1" stroke-linecap="round" stroke-linejoin="round"><path transform="translate(0.00,0) scale(15.500,15.500)" d="M0.42,0V1M0.42,0.5C0.38,0.38 0.31,0.31 0.21,0.31C0.06,0.31 0,0.47 0,0.655C0,0.84 0.06,1 0.21,1C0.31,1 0.38,0.93 0.42,0.8" vector-effect="non-scaling-stroke"/><path transform="translate(12.00,0) scale(15.500,15.500)" d="M0.21,0.31C0.06,0.31 0,0.47 0,0.655C0,0.84 0.06,1 0.21,1C0.36,1 0.42,0.84 0.42,0.655C0.42,0.47 0.36,0.31 0.21,0.31Z" vector-effect="non-scaling-stroke"/></g>
<g transform="translate(729.4,632.05)" fill="none" stroke-width="1.1" stroke-linecap="round" stroke-linejoin="round"><path transform="translate(0.00,0) scale(15.500,15.500)" d="M0,0V1H0.2C0.42,1 0.5,0.78 0.5,0.5C0.5,0.22 0.42,0 0.2,0Z" vector-effect="non-scaling-stroke"/></g>
<g transform="translate(330.8,96.55)" fill="none" stroke-width="1.1" stroke-linecap="round" stroke-linejoin="round"><path transform="translate(0.00,0) scale(10.736,12.200)" d="M0.48,0.18C0.45,0.06 0.36,0 0.25,0C0.1,0 0.02,0.1 0.02,0.25C0.02,0.5 0.5,0.48 0.5,0.74C0.5,0.9 0.4,1 0.25,1C0.11,1 0.03,0.92 0,0.8" vector-effect="non-scaling-stroke"/><path transform="translate(10.20,0) scale(10.736,12.200)" d="M0,0.03V0.08M0,0.31V1" vector-effect="non-scaling-stroke"/><path transform="translate(14.70,0) scale(10.736,12.200)" d="M0.42,0.31V1M0.42,0.5C0.38,0.38 0.31,0.31 0.21,0.31C0.06,0.31 0,0.47 0,0.655C0,0.84 0.06,1 0.21,1C0.31,1 0.38,0.93 0.42,0.8" vector-effect="non-scaling-stroke"/></g>
<g transform="translate(375.8,96.55)" fill="none" stroke-width="1.1" stroke-linecap="round" stroke-linejoin="round"><path transform="translate(0.00,0) scale(10.736,12.200)" d="M0,1L0.25,0L0.5,1M0.08,0.7H0.42" vector-effect="non-scaling-stroke"/></g>
<g transform="translate(686.0,120.64999999999999)" fill="none" stroke-width="1.1" stroke-linecap="round" stroke-linejoin="round"><path transform="translate(0.00,0) scale(11.780,12.400)" d="M0,0V1M0.48,0L0,0.62M0.16,0.42L0.5,1" vector-effect="non-scaling-stroke"/><path transform="translate(10.60,0) scale(11.780,12.400)" d="M0,0.03V0.08M0,0.31V1" vector-effect="non-scaling-stroke"/><path transform="translate(15.40,0) scale(11.780,12.400)" d="M0.42,0.31V1M0.42,0.5C0.38,0.38 0.31,0.31 0.21,0.31C0.06,0.31 0,0.47 0,0.655C0,0.84 0.06,1 0.21,1C0.31,1 0.38,0.93 0.42,0.8" vector-effect="non-scaling-stroke"/></g>
<g transform="translate(731,120.64999999999999)" fill="none" stroke-width="1.1" stroke-linecap="round" stroke-linejoin="round"><path transform="translate(0.00,0) scale(12.400,12.400)" d="M0,1L0.25,0L0.5,1M0.08,0.7H0.42" vector-effect="non-scaling-stroke"/></g>
<g transform="translate(543.1,443.15000000000003)" fill="none" stroke-width="1.1" stroke-linecap="round" stroke-linejoin="round"><path transform="translate(0.00,0) scale(11.780,12.400)" d="M0,0V1M0.48,0L0,0.62M0.16,0.42L0.5,1" vector-effect="non-scaling-stroke"/><path transform="translate(10.20,0) scale(11.780,12.400)" d="M0,0.64H0.42C0.42,0.42 0.34,0.31 0.21,0.31C0.06,0.31 0,0.47 0,0.655C0,0.86 0.06,1 0.21,1C0.32,1 0.39,0.95 0.42,0.86" vector-effect="non-scaling-stroke"/><path transform="translate(19.60,0) scale(11.780,12.400)" d="M0.42,0.31V1M0.42,0.5C0.38,0.38 0.31,0.31 0.21,0.31C0.06,0.31 0,0.47 0,0.655C0,0.84 0.06,1 0.21,1C0.31,1 0.38,0.93 0.42,0.8" vector-effect="non-scaling-stroke"/></g>
<g transform="translate(592.5,442.95)" fill="none" stroke-width="1.1" stroke-linecap="round" stroke-linejoin="round"><path transform="translate(0.00,0) scale(12.065,12.700)" d="M0,1V0H0.24C0.44,0 0.46,0.12 0.46,0.24C0.46,0.38 0.38,0.48 0.24,0.48H0M0.24,0.48H0.26C0.44,0.48 0.5,0.6 0.5,0.74C0.5,0.88 0.42,1 0.26,1H0" vector-effect="non-scaling-stroke"/></g>
<g transform="translate(107.4,485.45)" fill="none" stroke-width="1.1" stroke-linecap="round" stroke-linejoin="round"><path transform="translate(0.00,0) scale(12.255,12.900)" d="M0.48,0.18C0.45,0.06 0.36,0 0.25,0C0.1,0 0.02,0.1 0.02,0.25C0.02,0.5 0.5,0.48 0.5,0.74C0.5,0.9 0.4,1 0.25,1C0.11,1 0.03,0.92 0,0.8" vector-effect="non-scaling-stroke"/><path transform="translate(9.50,0) scale(12.255,12.900)" d="M0,0.64H0.42C0.42,0.42 0.34,0.31 0.21,0.31C0.06,0.31 0,0.47 0,0.655C0,0.86 0.06,1 0.21,1C0.32,1 0.39,0.95 0.42,0.86" vector-effect="non-scaling-stroke"/><path transform="translate(18.80,0) scale(12.255,12.900)" d="M0.42,0.31V1M0.42,0.5C0.38,0.38 0.31,0.31 0.21,0.31C0.06,0.31 0,0.47 0,0.655C0,0.84 0.06,1 0.21,1C0.31,1 0.38,0.93 0.42,0.8" vector-effect="non-scaling-stroke"/></g>
<g transform="translate(156,486.25)" fill="none" stroke-width="1.1" stroke-linecap="round" stroke-linejoin="round"><path transform="translate(0.00,0) scale(11.224,12.200)" d="M0,1V0H0.24C0.44,0 0.46,0.12 0.46,0.24C0.46,0.38 0.38,0.48 0.24,0.48H0M0.24,0.48H0.26C0.44,0.48 0.5,0.6 0.5,0.74C0.5,0.88 0.42,1 0.26,1H0" vector-effect="non-scaling-stroke"/></g>
<g transform="translate(462.6,127.55)" fill="none" stroke-width="1.1" stroke-linecap="round" stroke-linejoin="round"><path transform="translate(0.00,0) scale(10.400,10.400)" d="M0,1V0H0.24C0.44,0 0.46,0.12 0.46,0.24C0.46,0.38 0.38,0.48 0.24,0.48H0M0.24,0.48H0.26C0.44,0.48 0.5,0.6 0.5,0.74C0.5,0.88 0.42,1 0.26,1H0" vector-effect="non-scaling-stroke"/></g>
<g transform="translate(386.2,450.55)" fill="none" stroke-width="1.1" stroke-linecap="round" stroke-linejoin="round"><path transform="translate(0.00,0) scale(10.800,10.800)" d="M0,1L0.25,0L0.5,1M0.08,0.7H0.42" vector-effect="non-scaling-stroke"/></g>
<g transform="translate(34.75,302.1) rotate(-90)" fill="none" stroke-width="1.1" stroke-linecap="round" stroke-linejoin="round"><path transform="translate(0.00,0) scale(15.700,15.700)" d="M0,0V1M0.45,0V1M0,0.5H0.45" vector-effect="non-scaling-stroke"/></g>
<g transform="translate(97.64999999999999,326.9) rotate(-90)" fill="none" stroke-width="1.1" stroke-linecap="round" stroke-linejoin="round"><path transform="translate(0.00,0) scale(16.100,16.100)" d="M0,1V0H0.24C0.44,0 0.46,0.12 0.46,0.24C0.46,0.38 0.38,0.48 0.24,0.48H0M0.24,0.48H0.26C0.44,0.48 0.5,0.6 0.5,0.74C0.5,0.88 0.42,1 0.26,1H0" vector-effect="non-scaling-stroke"/></g>
<g transform="translate(156.05,321.8) rotate(-90)" fill="none" stroke-width="1.1" stroke-linecap="round" stroke-linejoin="round"><path transform="translate(0.00,0) scale(15.900,15.900)" d="M0.52,0.67H0L0.34,0V1" vector-effect="non-scaling-stroke"/><path transform="translate(11.00,0) scale(15.900,15.900)" d="M0.25,0C0.08,0 0,0.2 0,0.5C0,0.8 0.08,1 0.25,1C0.42,1 0.5,0.8 0.5,0.5C0.5,0.2 0.42,0 0.25,0Z" vector-effect="non-scaling-stroke"/></g>
<g transform="translate(193.55,383.6) rotate(-90)" fill="none" stroke-width="1.1" stroke-linecap="round" stroke-linejoin="round"><path transform="translate(0.00,0) scale(15.800,15.800)" d="M0.01,0.24C0.01,0.08 0.1,0 0.22,0C0.36,0 0.44,0.1 0.44,0.26C0.44,0.42 0.36,0.52 0,1H0.45" vector-effect="non-scaling-stroke"/><path transform="translate(11.00,0) scale(15.800,15.800)" d="M0.25,0C0.08,0 0,0.2 0,0.5C0,0.8 0.08,1 0.25,1C0.42,1 0.5,0.8 0.5,0.5C0.5,0.2 0.42,0 0.25,0Z" vector-effect="non-scaling-stroke"/></g>
<g transform="translate(687.4499999999999,282.7) rotate(-90)" fill="none" stroke-width="1.1" stroke-linecap="round" stroke-linejoin="round"><path transform="translate(0.00,0) scale(15.900,15.900)" d="M0,1V0H0.24C0.44,0 0.46,0.12 0.46,0.24C0.46,0.38 0.38,0.48 0.24,0.48H0M0.24,0.48H0.26C0.44,0.48 0.5,0.6 0.5,0.74C0.5,0.88 0.42,1 0.26,1H0" vector-effect="non-scaling-stroke"/><path transform="translate(12.60,0) scale(15.900,15.900)" d="M0,0.2L0.19,0V1" vector-effect="non-scaling-stroke"/></g>
</svg>
</body></html>
